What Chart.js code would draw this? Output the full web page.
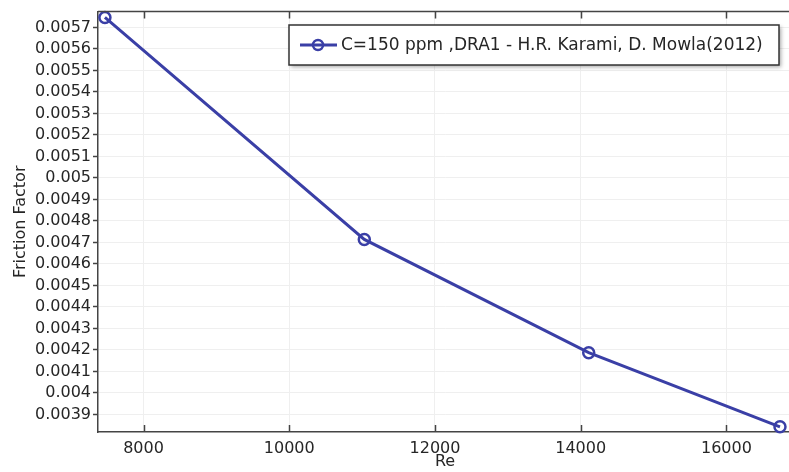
<!DOCTYPE html>
<html>
<head>
<meta charset="utf-8">
<script src="https://cdn.jsdelivr.net/npm/chart.js@4"></script>
<style>
  html, body { margin: 0; padding: 0; background: #fff; overflow: hidden; }
  #wrap { width: 800px; height: 472px; position: relative; }
</style>
</head>
<body>
<div id="wrap"><canvas id="frictionChart"></canvas></div>
<script>
// data
const seriesLabel = 'C=150 ppm ,DRA1 - H.R. Karami, D. Mowla(2012)';
const reValues = [7470, 11030, 14110, 16735];
const frictionFactor = [0.005747, 0.004714, 0.004187, 0.003842];
const xTickValues = [8000, 10000, 12000, 14000, 16000];
const yTickValues = [0.0039, 0.0040, 0.0041, 0.0042, 0.0043, 0.0044, 0.0045, 0.0046, 0.0047, 0.0048,
                     0.0049, 0.0050, 0.0051, 0.0052, 0.0053, 0.0054, 0.0055, 0.0056, 0.0057];
const yTickLabels = ['0.0039', '0.004', '0.0041', '0.0042', '0.0043', '0.0044', '0.0045', '0.0046', '0.0047', '0.0048',
                     '0.0049', '0.005', '0.0051', '0.0052', '0.0053', '0.0054', '0.0055', '0.0056', '0.0057'];

const lineColor = '#3a3fa6';
const axisColor = '#444';
const textColor = '#262626';
const font = { family: 'DejaVu Sans', size: 16 };

// frame, inner ticks and the boxed legend
const extras = {
    id: 'extras',
    afterDraw(chart) {
        const ctx = chart.ctx;
        const area = chart.chartArea;
        const xs = chart.scales.x;
        ctx.save();
        ctx.strokeStyle = axisColor;
        ctx.lineWidth = 1.5;
        ctx.beginPath();
        ctx.moveTo(area.left, area.top);
        ctx.lineTo(area.right, area.top);
        ctx.stroke();
        xTickValues.forEach(v => {
            const px = Math.round(xs.getPixelForValue(v)) + 0.5;
            ctx.beginPath();
            ctx.moveTo(px, area.bottom);
            ctx.lineTo(px, area.bottom - 7);
            ctx.moveTo(px, area.top);
            ctx.lineTo(px, area.top + 7);
            ctx.stroke();
        });

        // legend
        const bx = 289, by = 25, bw = 490, bh = 40;
        ctx.shadowColor = 'rgba(0,0,0,0.35)';
        ctx.shadowBlur = 4;
        ctx.shadowOffsetX = 2;
        ctx.shadowOffsetY = 2;
        ctx.fillStyle = '#fff';
        ctx.fillRect(bx, by, bw, bh);
        ctx.shadowColor = 'transparent';
        ctx.strokeStyle = '#333';
        ctx.lineWidth = 1.5;
        ctx.strokeRect(bx, by, bw, bh);

        const cy = by + bh / 2;
        ctx.strokeStyle = lineColor;
        ctx.lineWidth = 3;
        ctx.beginPath();
        ctx.moveTo(bx + 11, cy);
        ctx.lineTo(bx + 48, cy);
        ctx.stroke();
        ctx.lineWidth = 2.5;
        ctx.beginPath();
        ctx.arc(bx + 29, cy, 5, 0, Math.PI * 2);
        ctx.stroke();

        ctx.fillStyle = textColor;
        ctx.font = '17px "DejaVu Sans"';
        ctx.textBaseline = 'middle';
        ctx.textAlign = 'left';
        ctx.fillText(chart.data.datasets[0].label, bx + 52, cy + 1);
        ctx.restore();
    }
};

new Chart(document.getElementById('frictionChart'), {
    type: 'line',
    data: {
        datasets: [{
            label: seriesLabel,
            data: reValues.map((r, i) => ({ x: r, y: frictionFactor[i] })),
            borderColor: lineColor,
            borderWidth: 3,
            pointRadius: 5.5,
            pointBorderWidth: 2.5,
            pointBorderColor: lineColor,
            pointBackgroundColor: 'rgba(0,0,0,0)',
            tension: 0,
            clip: false
        }]
    },
    options: {
        responsive: true,
        maintainAspectRatio: false,
        animation: false,
        layout: { padding: { top: 7, right: 1, left: 0, bottom: 0 } },
        plugins: {
            legend: { display: false },
            tooltip: { enabled: false }
        },
        scales: {
            x: {
                type: 'linear',
                min: 7375,
                max: 16900,
                afterBuildTicks: axis => { axis.ticks = xTickValues.map(v => ({ value: v })); },
                afterFit: axis => { axis.height = 40; },
                grid: { color: '#efefef', drawTicks: false },
                border: { display: true, color: axisColor, width: 1.5 },
                ticks: { font: font, color: textColor, padding: 7, maxRotation: 0, callback: v => String(v) },
                title: { display: true, text: 'Re', font: font, color: textColor, padding: { top: 0, bottom: 1 } }
            },
            y: {
                min: 0.003818,
                max: 0.005774,
                afterBuildTicks: axis => { axis.ticks = yTickValues.map(v => ({ value: v })); },
                afterFit: axis => { axis.width = 98; },
                grid: { color: '#efefef', tickColor: axisColor, tickLength: 5, tickWidth: 1.5 },
                border: { display: true, color: axisColor, width: 1.5 },
                ticks: {
                    font: font, color: textColor, padding: 2,
                    callback: (v, i) => yTickLabels[i]
                },
                title: { display: true, text: 'Friction Factor', font: font, color: textColor, padding: { top: 11, bottom: 0 } }
            }
        }
    },
    plugins: [extras]
});
</script>
</body>
</html>
